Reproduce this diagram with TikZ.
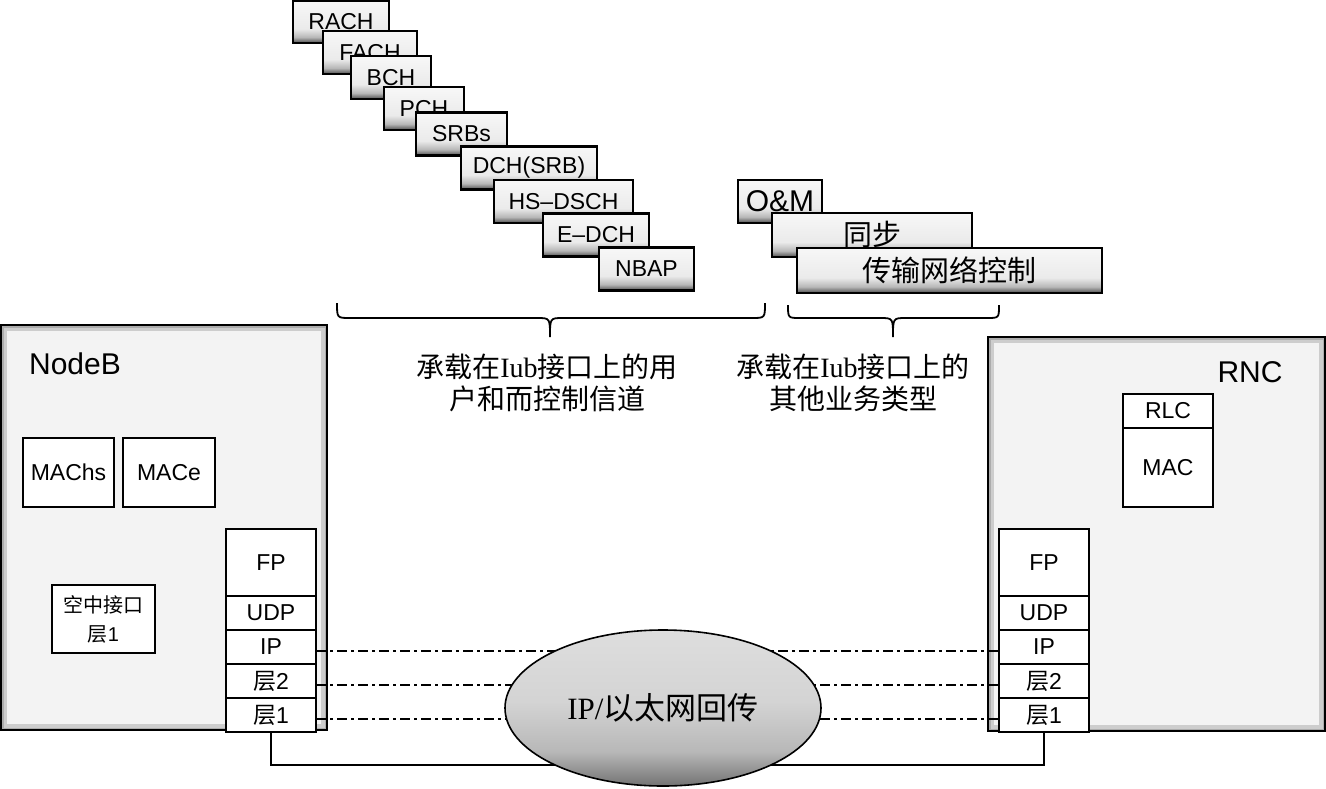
\documentclass[tikz,border=0pt]{standalone}
\usepackage{fontspec}
\setmainfont{Liberation Sans}
\newfontfamily\cjk{Noto Sans CJK SC}
\newfontfamily\serifl{Liberation Serif}
\usepackage{tikz}
\usetikzlibrary{
    shapes.geometric,
    positioning,
    calc
}
\definecolor{Bfill}{RGB}{243, 243, 243}
\definecolor{Bedge}{RGB}{205, 205, 205}
\definecolor{Bdeep}{RGB}{172, 172, 172}
\pgfdeclareverticalshading{chshade}{100bp}{color(0bp)=(black!70); color(25bp)=(black!70);
    color(32bp)=(black!28); color(42bp)=(black!8); color(75bp)=(black!3); color(100bp)=(black!3)}
\pgfdeclareverticalshading{ipshade}{100bp}{color(0bp)=(black!55); color(25bp)=(black!55);
    color(36bp)=(black!28); color(52bp)=(black!17); color(75bp)=(black!13); color(100bp)=(black!13)}
\tikzset{
    chbox/.style={
        rectangle, draw=black, line width=2.5pt, shade, shading=chshade,
        minimum height=43pt, inner sep=0pt, outer sep=0pt,
        font=\fontsize{23}{27}\selectfont
    },
    unit/.style={
        rectangle, draw=black, line width=2.6pt, fill=Bfill, inner sep=0pt, outer sep=0pt,
        path picture={
            \draw[Bedge, line width=12pt] (path picture bounding box.south west) rectangle (path picture bounding box.north east);
            \draw[Bdeep, line width=5pt] (path picture bounding box.south west) rectangle (path picture bounding box.north east);
        }
    },
    fnbox/.style={
        rectangle, draw=black, line width=1.8pt, fill=white, inner sep=0pt, outer sep=0pt,
        align=center, font=\fontsize{23}{27}\selectfont
    },
    layer/.style={fnbox, minimum width=90pt, minimum height=34pt},
    cloud/.style={
        ellipse, draw=black, line width=1.6pt, shade, shading=ipshade,
        minimum width=316pt, minimum height=156pt, inner sep=0pt,
        font=\fontsize{31}{34}\selectfont
    },
    brc/.style={line width=1.8pt},
    link/.style={line width=1.8pt, dash pattern=on 10pt off 4pt on 3pt off 4pt},
}

\begin{document}
\begin{tikzpicture}[x=1pt, y=-1pt]

    \useasboundingbox (0,0) rectangle (1326,788);

    % ── 上方信道（阶梯排列）──────────────────────────────
    \node [chbox, minimum width=96pt, minimum height=42pt] (rach) at (341,22) {RACH};
    \node [chbox, minimum width=94pt] (fach) at (370,52.5) {FACH};
    \node [chbox, minimum width=80pt] (bch) at (391,77.5) {BCH};
    \node [chbox, minimum width=80pt] (pch) at (424,108.5) {PCH};
    \node [chbox, minimum width=91pt] (srbs) at (461.5,134) {SRBs};
    \node [chbox, minimum width=136pt] (dch) at (529,168) {DCH(SRB)};
    \node [chbox, minimum width=139pt] (hsdsch) at (563.5,201.5) {HS–DSCH};
    \node [chbox, minimum width=106pt] (edch) at (596,235) {E–DCH};
    \node [chbox, minimum width=95pt] (nbap) at (646.5,269) {NBAP};

    % ── 其他业务 ────────────────────────────────────────
    \node [chbox, minimum width=84pt, font=\fontsize{30}{34}\selectfont] (om) at (780,201.5) {O\&M};
    \node [chbox, minimum width=200pt, minimum height=44pt, font=\cjk\fontsize{29}{32}\selectfont]
        (sync) at (872,235) {同步};
    \node [chbox, minimum width=305pt, minimum height=45pt, font=\cjk\fontsize{29}{32}\selectfont]
        (tnc) at (949.5,270.5) {传输网络控制};

    % ── 括号与说明 ──────────────────────────────────────
    \draw [brc] (337,303) .. controls (337,318) .. (350,318) -- (537,318)
        .. controls (550,318) .. (550,337) .. controls (550,318) .. (563,318)
        -- (752,318) .. controls (765,318) .. (765,303);
    \draw [brc] (788,305) .. controls (788,318) .. (800,318) -- (880,318)
        .. controls (893,318) .. (893,337) .. controls (893,318) .. (906,318)
        -- (987,318) .. controls (999,318) .. (999,305);
    \node [align=center, font=\cjk\fontsize{28}{32}\selectfont]
        (userT) at (547,383) {承载在{\serifl Iub}接口上的用\\户和而控制信道};
    \node [align=center, font=\cjk\fontsize{28}{32}\selectfont]
        (otherT) at (853,383) {承载在{\serifl Iub}接口上的\\其他业务类型};

    % ── NodeB ───────────────────────────────────────────
    \node [unit, minimum width=326pt, minimum height=405pt] (nodeb) at (164,527.5) {};
    \node [font=\fontsize{30}{34}\selectfont] (nodebT) at (75,364) {NodeB};
    \node [fnbox, minimum width=91pt, minimum height=69pt] (machs) at (68.5,472.5) {MAChs};
    \node [fnbox, minimum width=92pt, minimum height=69pt] (mace) at (169,472.5) {MACe};
    \node [fnbox, minimum width=103pt, minimum height=68pt, font=\fontsize{20}{29}\selectfont]
        (air) at (103.5,619) {{\cjk 空中接口}\\{\cjk 层}1};
    \node [layer, minimum height=67pt] (fpL) at (271,562.5) {FP};
    \node [layer, below=0pt of fpL] (udpL) {UDP};
    \node [layer, below=0pt of udpL] (ipL) {IP};
    \node [layer, below=0pt of ipL] (l2L) {{\cjk 层}2};
    \node [layer, below=0pt of l2L] (l1L) {{\cjk 层}1};

    % ── RNC ─────────────────────────────────────────────
    \node [unit, minimum width=337pt, minimum height=394pt] (rnc) at (1156.5,534) {};
    \node [font=\fontsize{30}{34}\selectfont] (rncT) at (1250,372) {RNC};
    \node [fnbox, minimum width=90pt, minimum height=34pt] (rlc) at (1168,411) {RLC};
    \node [fnbox, minimum width=90pt, minimum height=79pt, below=0pt of rlc] (mac) {MAC};
    \node [layer, minimum height=67pt] (fpR) at (1044,562.5) {FP};
    \node [layer, below=0pt of fpR] (udpR) {UDP};
    \node [layer, below=0pt of udpR] (ipR) {IP};
    \node [layer, below=0pt of ipR] (l2R) {{\cjk 层}2};
    \node [layer, below=0pt of l2R] (l1R) {{\cjk 层}1};

    % ── 连线 ────────────────────────────────────────────
    \draw [link] ([yshift=-4pt]ipL.east) -- ([yshift=-4pt]ipR.west);
    \draw [link] ([yshift=-4pt]l2L.east) -- ([yshift=-4pt]l2R.west);
    \draw [link] ([yshift=-4pt]l1L.east) -- ([yshift=-4pt]l1R.west);
    \coordinate (bus) at (663,765);
    \draw [line width=1.6pt] (l1L.south) |- (bus) -| (l1R.south);

    % ── 回传网络 ────────────────────────────────────────
    \node [cloud] (ipnet) at (663,708) {{\serifl IP/}{\cjk 以太网回传}};

\end{tikzpicture}
\end{document}
